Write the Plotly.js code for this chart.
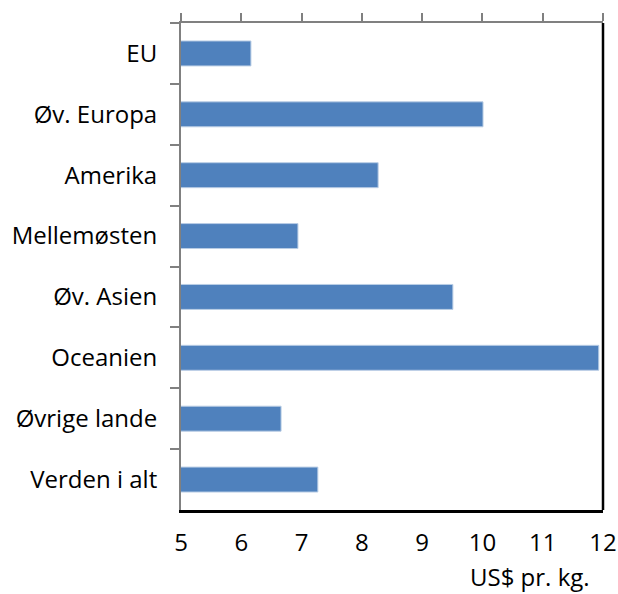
<!DOCTYPE html>
<html>
<head>
<meta charset="utf-8">
<script src="https://cdn.plot.ly/plotly-3.0.1.min.js"></script>
<style>html,body{margin:0;padding:0;background:#fff;}#chart{width:618px;height:594px;}</style>
</head>
<body>
<div id="chart"></div>
<script>
const categories = ["EU", "Øv. Europa", "Amerika", "Mellemøsten", "Øv. Asien", "Oceanien", "Øvrige lande", "Verden i alt"];
const values = [6.16, 10.01, 8.27, 6.94, 9.51, 11.93, 6.66, 7.27];
const xTicks = [5, 6, 7, 8, 9, 10, 11, 12];
const xTitle = "US$ pr. kg.";

const font = "Open Sans, Noto Sans, sans-serif";
const fs = 24;

const data = [{
  type: "bar",
  orientation: "h",
  y: categories,
  x: values,
  base: 0,
  width: 0.41,
  marker: {color: "#4F81BD", line: {color: "#B9CDE5", width: 1}},
  hoverinfo: "x+y"
}, {
  type: "scatter",
  x: [5, 12],
  y: [categories[0], categories[0]],
  xaxis: "x2",
  mode: "none",
  hoverinfo: "skip",
  showlegend: false
}];

const layout = {
  width: 618,
  height: 594,
  margin: {l: 181, r: 15, t: 23, b: 84},
  paper_bgcolor: "#fff",
  plot_bgcolor: "#fff",
  showlegend: false,
  font: {family: font, size: fs, color: "#000"},
  xaxis: {
    range: [5, 12],
    tickvals: xTicks,
    ticktext: xTicks.map(String),
    ticks: "",
    showgrid: false,
    zeroline: false,
    showline: true,
    linecolor: "#000",
    linewidth: 2.5,
    ticklabelstandoff: 10,
    tickfont: {family: font, size: fs, color: "#000"}
  },
  xaxis2: {
    overlaying: "x",
    side: "top",
    range: [5, 12],
    tickvals: xTicks,
    showticklabels: false,
    ticks: "outside",
    ticklen: 8,
    tickwidth: 2,
    tickcolor: "#808080",
    showgrid: false,
    zeroline: false,
    showline: true,
    linecolor: "#808080",
    linewidth: 2
  },
  yaxis: {
    type: "category",
    categoryorder: "array",
    categoryarray: categories,
    autorange: "reversed",
    tickson: "boundaries",
    ticks: "outside",
    ticklen: 9,
    tickwidth: 2,
    tickcolor: "#808080",
    showline: true,
    linecolor: "#808080",
    linewidth: 2,
    showgrid: false,
    zeroline: false,
    ticklabelstandoff: 17,
    tickfont: {family: font, size: fs, color: "#000"}
  },
  shapes: [{
    type: "line", xref: "paper", yref: "paper",
    x0: 1, x1: 1, y0: 0, y1: 1,
    line: {color: "#000", width: 2.5}
  }],
  annotations: [{
    text: xTitle,
    xref: "paper", yref: "paper",
    x: 0.975, y: 0, yshift: -66,
    xanchor: "right", yanchor: "middle",
    showarrow: false,
    font: {family: font, size: fs, color: "#000"}
  }]
};

Plotly.newPlot("chart", data, layout, {displayModeBar: false, staticPlot: true});
</script>
</body>
</html>
